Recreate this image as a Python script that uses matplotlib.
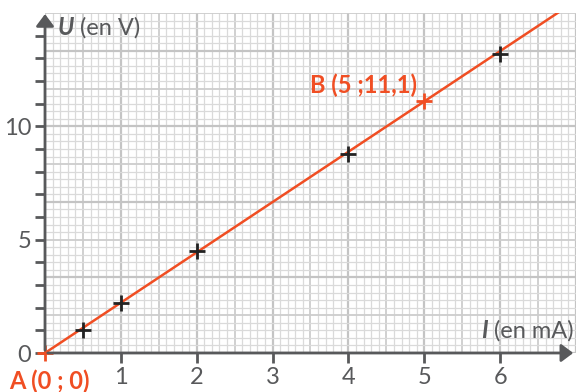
import numpy as np
import matplotlib.pyplot as plt

# measured points (I in mA, U in V)
I_MES = [0.5, 1, 2, 4, 6]
U_MES = [1.0, 2.2, 4.5, 8.8, 13.2]

# line through A and B
PT_A = (0, 0)
PT_B = (5, 11.1)
LABEL_A = "A (0 ; 0)"
LABEL_B = "B (5 ;11,1)"

X_TICKS = [1, 2, 3, 4, 5, 6]
Y_LABELS = [0, 5, 10]

RED = "#f04e23"
GRAY = "#58595b"
FONT = "Lato"
FS = 17


def main():
    fig = plt.figure(figsize=(5.76, 3.92), dpi=100)
    ax = fig.add_axes([45 / 576, 39 / 392, 531 / 576, 340 / 392])
    ax.set_xlim(0, 7)
    ax.set_ylim(0, 15)

    # graph paper: square cells, 10 small cells = 1 mA = 10/3 V
    for k in range(71):
        x = k * 0.1
        if k % 10 == 0:
            c, lw = "#c4c4c4", 1.6
        elif k % 5 == 0:
            c, lw = "#cdcdcd", 1.3
        else:
            c, lw = "#dadada", 0.9
        ax.axvline(x, color=c, lw=lw, zorder=0)
    for k in range(46):
        y = k / 3
        if k % 10 == 0:
            c, lw = "#c4c4c4", 1.6
        elif k % 5 == 0:
            c, lw = "#cdcdcd", 1.3
        else:
            c, lw = "#dadada", 0.9
        ax.axhline(y, color=c, lw=lw, zorder=0)

    # line through A and B
    slope = PT_B[1] / PT_B[0]
    xs = np.array([0, 7])
    ax.plot(xs, slope * xs, color=RED, lw=1.8, zorder=3)

    ax.plot(I_MES, U_MES, "+", color="#222222", ms=12, mew=2, zorder=4)
    ax.plot([PT_A[0], PT_B[0]], [PT_A[1], PT_B[1]], "+", color=RED,
            ms=12, mew=2, zorder=4, clip_on=False)

    ax.text(0.06, -1.25, LABEL_A, color=RED, fontsize=FS, fontweight="bold",
            family=FONT, ha="center", va="center", clip_on=False)
    ax.text(4.9, 11.8, LABEL_B, color=RED, fontsize=FS, fontweight="bold",
            family=FONT, ha="right", va="center")

    # axes
    for s in ax.spines.values():
        s.set_visible(False)
    ax.annotate("", xy=(0, 1.005), xytext=(0, 0), xycoords="axes fraction",
                arrowprops=dict(arrowstyle="-|>,head_width=0.3", color=GRAY,
                                lw=2, mutation_scale=18), zorder=5)
    ax.annotate("", xy=(1.0, 0), xytext=(0, 0), xycoords="axes fraction",
                arrowprops=dict(arrowstyle="-|>,head_width=0.3", color=GRAY,
                                lw=2, mutation_scale=18), zorder=5)

    ax.set_xticks(X_TICKS)
    ax.set_xticklabels([str(v) for v in X_TICKS])
    ax.set_yticks(range(0, 15))
    ax.set_yticklabels([str(v) if v in Y_LABELS else "" for v in range(0, 15)])
    ax.tick_params(axis="both", direction="out", length=7, width=2,
                   color=GRAY, labelcolor=GRAY, labelsize=FS, pad=3)
    for lab in ax.get_xticklabels() + ax.get_yticklabels():
        lab.set_family(FONT)

    ax.text(0.17, 14.35, "U", color=GRAY, fontsize=FS, fontweight="bold",
            fontstyle="italic", family=FONT, ha="left", va="center")
    ax.text(0.46, 14.35, "(en V)", color=GRAY, fontsize=FS, family=FONT,
            ha="left", va="center")
    ax.text(6.97, 1.0, "(en mA)", color=GRAY, fontsize=FS, family=FONT,
            ha="right", va="center")
    ax.text(5.84, 1.0, "I", color=GRAY, fontsize=FS, fontweight="bold",
            fontstyle="italic", family=FONT, ha="right", va="center")

    fig.savefig("out.png", dpi=100)


if __name__ == "__main__":
    main()
